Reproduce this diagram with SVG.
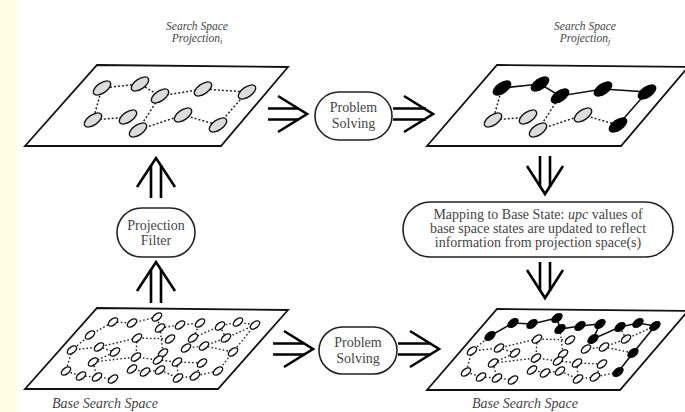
<svg xmlns="http://www.w3.org/2000/svg" xmlns:xlink="http://www.w3.org/1999/xlink" width="685" height="412" viewBox="0 0 685 412">
  <style>
    .plane { fill:#fff; stroke:#111; stroke-width:1.8; stroke-linejoin:miter }
    .dot { fill:none; stroke:#222; stroke-width:1.5; stroke-dasharray:2 2 }
    .sdot { fill:none; stroke:#222; stroke-width:1.4; stroke-dasharray:1.6 2.2 }
    .solid { fill:none; stroke:#111; stroke-width:1.6 }
    .big { fill:#dcdcdc; stroke:#111; stroke-width:1.3 }
    .bigb { fill:#000; stroke:#000; stroke-width:1.3 }
    .sm { fill:#fff; stroke:#111; stroke-width:1.3 }
    .smb { fill:#000; stroke:#000; stroke-width:1 }
    .arr { fill:none; stroke:#000; stroke-width:2.6; stroke-linecap:butt; stroke-linejoin:miter }
    .box { fill:#fff; stroke:#222; stroke-width:1.6 }
    .lbl { font-family:"Liberation Serif", "Times New Roman", serif; font-size:14px; fill:#444; text-anchor:middle }
    .cap { font-family:"Liberation Serif", "Times New Roman", serif; font-style:italic; fill:#444; text-anchor:middle }
  </style>
  <defs>
    <ellipse id="bn" rx="10" ry="5" transform="rotate(-35)"/>
    <ellipse id="sn" rx="5.5" ry="3" transform="rotate(-38)"/>
    <ellipse id="snb" rx="6" ry="3.5" transform="rotate(-38)"/>
  </defs>

  <!-- page background with the pale margin strip -->
  <rect x="0" y="0" width="685" height="412" fill="#fff"/>
  <rect x="0" y="0" width="17" height="412" fill="#fffee2"/>

  <!-- ===== projection space, before solving ===== -->
  <g id="proj-space-i">
    <polygon class="plane" points="97,65 288,67 221,146 25,146"/>
    <text class="cap" x="197" y="30" font-size="11.5">Search Space</text>
    <text class="cap" x="197" y="42" font-size="11.5">Projection<tspan font-size="8" dy="2">i</tspan></text>
    <g id="proj-i-edges">
      <path class="dot" d="M102,88 L140,84 L160,96 L203,89 L247,92 M102,88 L93,120 L128,117 M160,96 L138,130 L183,115 L218,125 L247,92"/>
    </g>
    <g id="pi-n1"><use xlink:href="#bn" class="big" x="102" y="88"/></g>
    <g id="pi-n2"><use xlink:href="#bn" class="big" x="140" y="84"/></g>
    <g id="pi-n3"><use xlink:href="#bn" class="big" x="160" y="96"/></g>
    <g id="pi-n4"><use xlink:href="#bn" class="big" x="203" y="89"/></g>
    <g id="pi-n5"><use xlink:href="#bn" class="big" x="247" y="92"/></g>
    <g id="pi-n6"><use xlink:href="#bn" class="big" x="93" y="120"/></g>
    <g id="pi-n7"><use xlink:href="#bn" class="big" x="128" y="117"/></g>
    <g id="pi-n8"><use xlink:href="#bn" class="big" x="138" y="130"/></g>
    <g id="pi-n9"><use xlink:href="#bn" class="big" x="183" y="115"/></g>
    <g id="pi-n10"><use xlink:href="#bn" class="big" x="218" y="125"/></g>
  </g>

  <!-- ===== projection space, after solving (solution path in black) ===== -->
  <g id="proj-space-j">
    <text class="cap" x="585" y="30" font-size="11.5">Search Space</text>
    <text class="cap" x="585" y="42" font-size="11.5">Projection<tspan font-size="8" dy="2">j</tspan></text>
    <g transform="translate(400,0)">
      <polygon class="plane" points="97,65 288,67 221,146 27,146"/>
      <g id="proj-j-edges">
        <path class="solid" d="M102,88 L140,84 L160,96 L203,89 L247,92 L218,125"/>
        <path class="dot" d="M102,88 L93,120 L128,117 M160,96 L138,130 L183,115 L218,125"/>
      </g>
      <g id="pj-n1"><use xlink:href="#bn" class="bigb" x="102" y="88"/></g>
      <g id="pj-n2"><use xlink:href="#bn" class="bigb" x="140" y="84"/></g>
      <g id="pj-n3"><use xlink:href="#bn" class="bigb" x="160" y="96"/></g>
      <g id="pj-n4"><use xlink:href="#bn" class="bigb" x="203" y="89"/></g>
      <g id="pj-n5"><use xlink:href="#bn" class="bigb" x="247" y="92"/></g>
      <g id="pj-n6"><use xlink:href="#bn" class="big" x="93" y="120"/></g>
      <g id="pj-n7"><use xlink:href="#bn" class="big" x="128" y="117"/></g>
      <g id="pj-n8"><use xlink:href="#bn" class="big" x="138" y="130"/></g>
      <g id="pj-n9"><use xlink:href="#bn" class="big" x="183" y="115"/></g>
      <g id="pj-n10"><use xlink:href="#bn" class="bigb" x="218" y="125"/></g>
    </g>
  </g>

  <!-- ===== base search space, before solving ===== -->
  <g id="base-space-left">
    <polygon class="plane" points="97,308 288,310 218,389 25,389"/>
    <text class="cap" x="105" y="408" font-size="14">Base Search Space</text>
    <g id="base-left-edges">
      <path class="sdot" d="M90,335 L113,322 L132,323 L157,317 L160,328 L180,325 L200,323 L193,338 L220,326 L238,322 L255,325 L233,352 L218,371"/>
      <path class="sdot" d="M90,335 L72,350 L99,347 L137,338 L170,339 M72,350 L66,371 L81,376 L97,377 L113,379 M99,347 L115,352 L93,362 L136,357 L158,360 L177,362 L202,363 M137,338 L136,357 L132,369 L145,372 L160,370 L178,378 L195,376 L218,371 M160,328 L163,353 L158,360 M193,338 L186,348 L204,346 L226,338 L255,325 M226,338 L220,326 M204,346 L233,352 M202,363 L195,376 M93,362 L97,377 M177,362 L178,378"/>
    </g>
    <g id="bl-nodes">
      <g id="bl-b1"><use xlink:href="#sn" class="sm" x="90" y="335"/></g>
      <g id="bl-b2"><use xlink:href="#sn" class="sm" x="113" y="322"/></g>
      <g id="bl-b3"><use xlink:href="#sn" class="sm" x="132" y="323"/></g>
      <g id="bl-b4"><use xlink:href="#sn" class="sm" x="157" y="317"/></g>
      <g id="bl-b5"><use xlink:href="#sn" class="sm" x="160" y="328"/></g>
      <g id="bl-b6"><use xlink:href="#sn" class="sm" x="180" y="325"/></g>
      <g id="bl-b7"><use xlink:href="#sn" class="sm" x="200" y="323"/></g>
      <g id="bl-b8"><use xlink:href="#sn" class="sm" x="193" y="338"/></g>
      <g id="bl-b9"><use xlink:href="#sn" class="sm" x="220" y="326"/></g>
      <g id="bl-b10"><use xlink:href="#sn" class="sm" x="238" y="322"/></g>
      <g id="bl-b11"><use xlink:href="#sn" class="sm" x="255" y="325"/></g>
      <g id="bl-b12"><use xlink:href="#sn" class="sm" x="233" y="352"/></g>
      <g id="bl-b13"><use xlink:href="#sn" class="sm" x="218" y="371"/></g>
      <g id="bl-a"><use xlink:href="#sn" class="sm" x="137" y="338"/></g>
      <g id="bl-b"><use xlink:href="#sn" class="sm" x="170" y="339"/></g>
      <g id="bl-c"><use xlink:href="#sn" class="sm" x="226" y="338"/></g>
      <g id="bl-d"><use xlink:href="#sn" class="sm" x="72" y="350"/></g>
      <g id="bl-e"><use xlink:href="#sn" class="sm" x="99" y="347"/></g>
      <g id="bl-f"><use xlink:href="#sn" class="sm" x="115" y="352"/></g>
      <g id="bl-g"><use xlink:href="#sn" class="sm" x="163" y="353"/></g>
      <g id="bl-h"><use xlink:href="#sn" class="sm" x="186" y="348"/></g>
      <g id="bl-i"><use xlink:href="#sn" class="sm" x="204" y="346"/></g>
      <g id="bl-k"><use xlink:href="#sn" class="sm" x="93" y="362"/></g>
      <g id="bl-l"><use xlink:href="#sn" class="sm" x="136" y="357"/></g>
      <g id="bl-m"><use xlink:href="#sn" class="sm" x="158" y="360"/></g>
      <g id="bl-n"><use xlink:href="#sn" class="sm" x="177" y="362"/></g>
      <g id="bl-o"><use xlink:href="#sn" class="sm" x="202" y="363"/></g>
      <g id="bl-p"><use xlink:href="#sn" class="sm" x="66" y="371"/></g>
      <g id="bl-q"><use xlink:href="#sn" class="sm" x="81" y="376"/></g>
      <g id="bl-r"><use xlink:href="#sn" class="sm" x="97" y="377"/></g>
      <g id="bl-s"><use xlink:href="#sn" class="sm" x="113" y="379"/></g>
      <g id="bl-t"><use xlink:href="#sn" class="sm" x="132" y="369"/></g>
      <g id="bl-u"><use xlink:href="#sn" class="sm" x="145" y="372"/></g>
      <g id="bl-v"><use xlink:href="#sn" class="sm" x="160" y="370"/></g>
      <g id="bl-w"><use xlink:href="#sn" class="sm" x="178" y="378"/></g>
      <g id="bl-x"><use xlink:href="#sn" class="sm" x="195" y="376"/></g>
    </g>
  </g>

  <!-- ===== base search space, after mapping (path in black) ===== -->
  <g id="base-space-right">
    <text class="cap" x="525" y="408" font-size="14">Base Search Space</text>
    <g transform="translate(400,1)">
      <polygon class="plane" points="97,308 288,310 220,389 27,389"/>
      <g id="base-right-edges">
        <path class="solid" d="M90,335 L113,322 L132,323 L157,317 L160,328 L180,325 L200,323 L193,338 L220,326 L238,322 L255,325 L233,352 L218,371"/>
        <path class="sdot" d="M90,335 L72,350 L99,347 L137,338 L170,339 M72,350 L66,371 L81,376 L97,377 L113,379 M99,347 L115,352 L93,362 L136,357 L158,360 L177,362 L202,363 M137,338 L136,357 L132,369 L145,372 L160,370 L178,378 L195,376 L218,371 M160,328 L163,353 L158,360 M193,338 L186,348 L204,346 L226,338 L255,325 M226,338 L220,326 M204,346 L233,352 M202,363 L195,376 M93,362 L97,377 M177,362 L178,378"/>
      </g>
      <g id="br-nodes">
        <g id="br-b1"><use xlink:href="#snb" class="smb" x="90" y="335"/></g>
        <g id="br-b2"><use xlink:href="#snb" class="smb" x="113" y="322"/></g>
        <g id="br-b3"><use xlink:href="#snb" class="smb" x="132" y="323"/></g>
        <g id="br-b4"><use xlink:href="#snb" class="smb" x="157" y="317"/></g>
        <g id="br-b5"><use xlink:href="#snb" class="smb" x="160" y="328"/></g>
        <g id="br-b6"><use xlink:href="#snb" class="smb" x="180" y="325"/></g>
        <g id="br-b7"><use xlink:href="#snb" class="smb" x="200" y="323"/></g>
        <g id="br-b8"><use xlink:href="#snb" class="smb" x="193" y="338"/></g>
        <g id="br-b9"><use xlink:href="#snb" class="smb" x="220" y="326"/></g>
        <g id="br-b10"><use xlink:href="#snb" class="smb" x="238" y="322"/></g>
        <g id="br-b11"><use xlink:href="#snb" class="smb" x="255" y="325"/></g>
        <g id="br-b12"><use xlink:href="#snb" class="smb" x="233" y="352"/></g>
        <g id="br-b13"><use xlink:href="#snb" class="smb" x="218" y="371"/></g>
        <g id="br-a"><use xlink:href="#sn" class="sm" x="137" y="338"/></g>
        <g id="br-b"><use xlink:href="#sn" class="sm" x="170" y="339"/></g>
        <g id="br-c"><use xlink:href="#sn" class="sm" x="226" y="338"/></g>
        <g id="br-d"><use xlink:href="#sn" class="sm" x="72" y="350"/></g>
        <g id="br-e"><use xlink:href="#sn" class="sm" x="99" y="347"/></g>
        <g id="br-f"><use xlink:href="#sn" class="sm" x="115" y="352"/></g>
        <g id="br-g"><use xlink:href="#sn" class="sm" x="163" y="353"/></g>
        <g id="br-h"><use xlink:href="#sn" class="sm" x="186" y="348"/></g>
        <g id="br-i"><use xlink:href="#sn" class="sm" x="204" y="346"/></g>
        <g id="br-k"><use xlink:href="#sn" class="sm" x="93" y="362"/></g>
        <g id="br-l"><use xlink:href="#sn" class="sm" x="136" y="357"/></g>
        <g id="br-m"><use xlink:href="#sn" class="sm" x="158" y="360"/></g>
        <g id="br-n"><use xlink:href="#sn" class="sm" x="177" y="362"/></g>
        <g id="br-o"><use xlink:href="#sn" class="sm" x="202" y="363"/></g>
        <g id="br-p"><use xlink:href="#sn" class="sm" x="66" y="371"/></g>
        <g id="br-q"><use xlink:href="#sn" class="sm" x="81" y="376"/></g>
        <g id="br-r"><use xlink:href="#sn" class="sm" x="97" y="377"/></g>
        <g id="br-s"><use xlink:href="#sn" class="sm" x="113" y="379"/></g>
        <g id="br-t"><use xlink:href="#sn" class="sm" x="132" y="369"/></g>
        <g id="br-u"><use xlink:href="#sn" class="sm" x="145" y="372"/></g>
        <g id="br-v"><use xlink:href="#sn" class="sm" x="160" y="370"/></g>
        <g id="br-w"><use xlink:href="#sn" class="sm" x="178" y="378"/></g>
        <g id="br-x"><use xlink:href="#sn" class="sm" x="195" y="376"/></g>
      </g>
    </g>
  </g>

  <!-- ===== process boxes ===== -->
  <g id="solve-top">
    <rect class="box" x="315" y="92" width="77" height="48" rx="24"/>
    <text class="lbl" x="353.5" y="112">Problem</text>
    <text class="lbl" x="353.5" y="128">Solving</text>
  </g>
  <g id="solve-bottom">
    <rect class="box" x="319" y="327" width="78" height="47" rx="23.5"/>
    <text class="lbl" x="358" y="347">Problem</text>
    <text class="lbl" x="358" y="363">Solving</text>
  </g>
  <g id="projection-filter">
    <rect class="box" x="117" y="208" width="78" height="49" rx="24.5"/>
    <text class="lbl" x="156" y="230">Projection</text>
    <text class="lbl" x="156" y="245">Filter</text>
  </g>
  <g id="mapping">
    <rect class="box" x="403" y="202" width="270" height="55" rx="27.5"/>
    <text class="lbl" x="538" y="219">Mapping to Base State: <tspan font-style="italic">upc</tspan> values of</text>
    <text class="lbl" x="538" y="233">base space states are updated to reflect</text>
    <text class="lbl" x="538" y="247">information from projection space(s)</text>
  </g>

  <!-- ===== double-line flow arrows ===== -->
  <g id="connectors">
    <g id="arrow-pi-solve">
      <path class="arr" d="M268,108.5 H299 M268,119.5 H299"/>
      <polyline class="arr" points="278,96 307,114 278,132"/>
    </g>
    <g id="arrow-solve-pj">
      <path class="arr" d="M393,108.5 H426 M393,119.5 H426"/>
      <polyline class="arr" points="404,96 433,114 404,132"/>
    </g>
    <g id="arrow-pj-map">
      <path class="arr" d="M540,156 V187 M550,156 V187"/>
      <polyline class="arr" points="527,166 545,194 563,166"/>
    </g>
    <g id="arrow-map-base">
      <path class="arr" d="M540,262 V291 M550,262 V291"/>
      <polyline class="arr" points="527,270 545,298 563,270"/>
    </g>
    <g id="arrow-filter-pi">
      <path class="arr" d="M151,165 V198 M161,165 V198"/>
      <polyline class="arr" points="137,187 156,158 175,187"/>
    </g>
    <g id="arrow-base-filter">
      <path class="arr" d="M151,269 V303 M161,269 V303"/>
      <polyline class="arr" points="137,291 156,262 175,291"/>
    </g>
    <g id="arrow-base-solve">
      <path class="arr" d="M273,343.5 H305 M273,354.5 H305"/>
      <polyline class="arr" points="284,331 313,349 284,367"/>
    </g>
    <g id="arrow-solve-base">
      <path class="arr" d="M398,343.5 H431 M398,354.5 H431"/>
      <polyline class="arr" points="410,331 439,349 410,367"/>
    </g>
  </g>
</svg>
